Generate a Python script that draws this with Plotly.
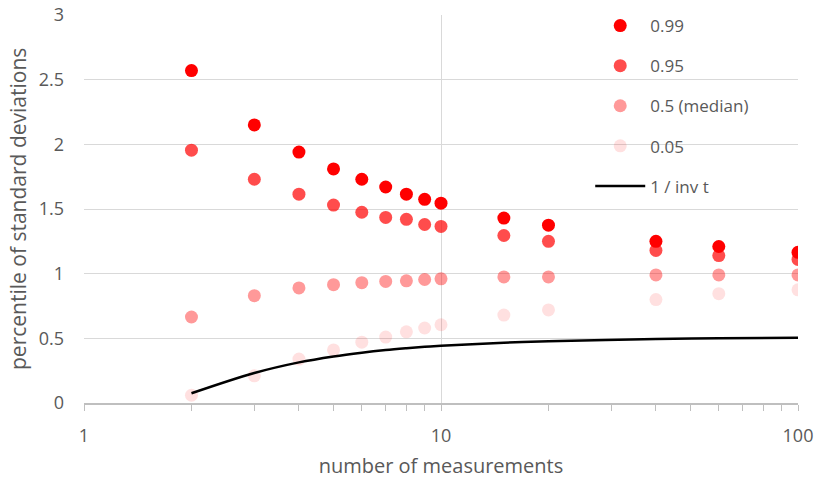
import plotly.graph_objects as go

n = [2, 3, 4, 5, 6, 7, 8, 9, 10, 15, 20, 40, 60, 100]
p99 = [2.57, 2.15, 1.94, 1.81, 1.73, 1.67, 1.615, 1.575, 1.545, 1.43, 1.375, 1.25, 1.21, 1.165]
p95 = [1.955, 1.73, 1.615, 1.53, 1.475, 1.435, 1.42, 1.38, 1.365, 1.295, 1.25, 1.18, 1.14, 1.11]
p50 = [0.665, 0.83, 0.89, 0.915, 0.93, 0.94, 0.945, 0.955, 0.96, 0.975, 0.975, 0.99, 0.99, 0.99]
p05 = [0.06, 0.21, 0.34, 0.41, 0.47, 0.51, 0.55, 0.58, 0.605, 0.68, 0.72, 0.80, 0.845, 0.875]
inv_t = [0.075, 0.232, 0.314, 0.36, 0.389, 0.409, 0.423, 0.434, 0.442, 0.466, 0.478, 0.494, 0.50, 0.504]

names = ["0.99", "0.95", "0.5 (median)", "0.05"]
colors = ["rgb(255,0,0)", "rgba(255,0,0,0.7)", "rgba(255,0,0,0.4)", "rgba(255,0,0,0.12)"]
series = [p99, p95, p50, p05]

font = "Open Sans, Liberation Sans, sans-serif"
grey = "#595959"

fig = go.Figure()
for nm, col, ys in zip(names, colors, series):
    fig.add_trace(go.Scatter(x=n, y=ys, mode="markers", name=nm, legendgroup=nm,
                             marker=dict(size=13, color=col, line=dict(width=0))))
fig.add_trace(go.Scatter(x=n, y=inv_t, mode="lines", name="1 / inv t", legendgroup="t",
                         line=dict(color="black", width=2.5, shape="spline")))

fig.update_layout(
    width=815, height=479,
    margin=dict(l=84, r=17, t=15, b=76, autoexpand=False),
    paper_bgcolor="white", plot_bgcolor="white",
    font=dict(family=font, size=18, color=grey),
    legend=dict(x=0.709, y=1.018, xanchor="left", yanchor="top",
                bgcolor="rgba(0,0,0,0)",
                font=dict(size=17, color=grey), tracegroupgap=15, traceorder="grouped",
                itemwidth=50),
    xaxis=dict(type="log", range=[0, 2], tickvals=[1, 10, 100], ticktext=["1", "10", "100"],
               showgrid=True, gridcolor="#D9D9D9", gridwidth=1.3,
               showline=True, linecolor="#BFBFBF", linewidth=1.5,
               ticks="outside", ticklen=6, tickcolor="#BFBFBF", tickwidth=1.3,
               minor=dict(ticks="outside", ticklen=6, tickcolor="#BFBFBF", tickwidth=1.3, showgrid=False, dtick="D1"),
               zeroline=False, ticklabelstandoff=10, automargin=False,
               tickfont=dict(size=18, color=grey),
               title=dict(text="number of measurements", font=dict(size=20, color=grey), standoff=13)),
    yaxis=dict(range=[0, 3], dtick=0.5, showgrid=True, gridcolor="#D9D9D9", gridwidth=1.3,
               zeroline=False, showline=False, tickformat="~g", automargin=False,
               tickfont=dict(size=18, color=grey), ticklabelstandoff=19),
    annotations=[dict(text="percentile of standard deviations", textangle=-90,
                      xref="paper", yref="paper", x=(18 - 84) / 714, y=0.5,
                      xanchor="center", yanchor="middle", showarrow=False,
                      font=dict(size=21, color=grey))],
)
fig.write_html("out.html")
